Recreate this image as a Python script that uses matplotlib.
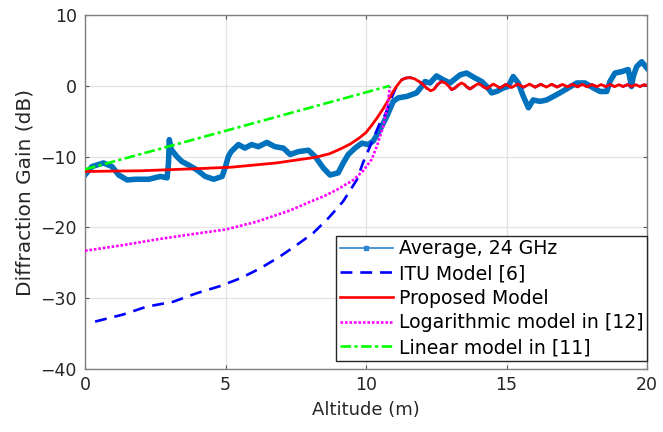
import matplotlib
matplotlib.use("Agg")
import matplotlib.pyplot as plt
from matplotlib.lines import Line2D

plt.rcParams.update({
    "font.family": "DejaVu Sans",
    "font.size": 12.5,
})

# Mesure moyenne a 24 GHz
avg_x = [0, 0.25, 0.66, 0.96, 1.2, 1.5, 1.79, 2.27, 2.68, 2.92, 2.97, 3.0, 3.07, 3.27, 3.45,
         3.69, 3.99, 4.28, 4.58, 4.88, 5.0, 5.1, 5.2, 5.46, 5.69, 5.93, 6.17, 6.47, 6.76, 7.06,
         7.3, 7.59, 7.95, 8.19, 8.48, 8.72, 9.01, 9.19, 9.37, 9.61, 9.85, 10.08, 10.26, 10.5,
         10.74, 10.97, 11.15, 11.45, 11.8, 11.98, 12.1, 12.28, 12.51, 12.75, 12.99, 13.35,
         13.58, 13.88, 14.12, 14.3, 14.47, 14.65, 14.89, 15.06, 15.24, 15.42, 15.6, 15.78,
         15.95, 16.19, 16.43, 16.67, 16.9, 17.2, 17.5, 17.79, 18.09, 18.33, 18.57, 18.68,
         18.86, 19.1, 19.33, 19.45, 19.51, 19.63, 19.81, 20.0]
avg_y = [-12.6, -11.4, -10.9, -11.4, -12.6, -13.3, -13.2, -13.2, -12.8, -13.0, -11.0, -7.6,
         -9.0, -10.0, -10.7, -11.2, -11.9, -12.8, -13.2, -12.8, -11.4, -10.0, -9.3, -8.3,
         -8.8, -8.3, -8.6, -8.0, -8.6, -8.8, -9.7, -9.3, -9.1, -10.0, -11.6, -12.6, -12.3,
         -10.9, -9.7, -8.8, -8.1, -8.3, -7.8, -6.2, -4.3, -2.2, -1.7, -1.5, -1.0, -0.1, 0.6,
         0.4, 1.4, 0.85, 0.4, 1.55, 1.8, 1.1, 0.6, -0.1, -1.0, -0.8, -0.3, -0.1, 1.3, 0.4,
         -1.5, -3.1, -2.0, -2.2, -2.0, -1.5, -1.0, -0.3, 0.4, 0.4, -0.3, -0.8, -0.8, 0.6,
         1.8, 2.0, 2.3, -0.1, 1.3, 2.7, 3.4, 2.5]

# Modele propose
prop_x = [0, 1, 2, 3, 4, 5.2, 6.8, 7.5, 8.2, 8.7, 9.1, 9.45, 9.75, 10.0, 10.2, 10.4, 10.6,
          10.8, 10.95, 11.1, 11.27, 11.42, 11.57, 11.72, 11.87, 12.0, 12.15, 12.3, 12.42,
          12.55, 12.69, 12.82, 12.93, 13.05, 13.17, 13.28, 13.4, 13.5, 13.6, 13.7, 13.8,
          13.9, 14.0, 14.1, 14.2, 14.3, 14.53, 14.77, 14.98, 15.18, 15.40, 15.61, 15.82,
          16.02, 16.22, 16.42, 16.61, 16.80, 16.99, 17.17, 17.35, 17.53, 17.70, 17.87, 18.04,
          18.21, 18.37, 18.53, 18.69, 18.85, 19.00, 19.15, 19.30, 19.45, 19.60, 19.75, 19.90,
          20.0]
prop_y = [-12.1, -12.05, -12.0, -11.85, -11.7, -11.5, -10.9, -10.5, -10.1, -9.6, -8.9, -8.2,
          -7.4, -6.6, -5.6, -4.5, -3.3, -2.0, -0.9, 0.0, 0.85, 1.1, 1.15, 1.0, 0.65, 0.3,
          -0.3, -0.7, -0.5, 0.2, 0.6, 0.4, 0.0, -0.55, -0.3, 0.1, 0.4, 0.2, -0.2, -0.45,
          -0.2, 0.1, 0.3, 0.1, -0.2, -0.4, 0.25, -0.3, 0.2, -0.25, 0.25, -0.2, 0.25, -0.2,
          0.22, -0.18, 0.22, -0.18, 0.2, -0.15, 0.2, -0.15, 0.2, -0.15, 0.18, -0.12, 0.18,
          -0.12, 0.18, -0.12, 0.16, -0.1, 0.16, -0.1, 0.15, -0.1, 0.15, 0.05]

# Modele ITU (rejoint le modele propose au-dessus de l'obstacle)
itu_x = [0.36, 1.36, 2.19, 3.14, 3.97, 4.8, 5.52, 6.23, 6.94, 7.53, 8.12, 8.66, 9.19, 9.67,
         9.9, 10.14, 10.5, 10.68, 10.95, 11.1]
itu_y = [-33.3, -32.3, -31.2, -30.5, -29.3, -28.3, -27.2, -25.8, -24.1, -22.5, -20.8, -18.7,
         -16.3, -13.3, -10.8, -8.6, -5.2, -4.1, -1.3, 0.0]

# Modele logarithmique [12]
log_x = [0, 1.36, 2.55, 3.74, 5.0, 6.11, 7.3, 8.0, 8.5, 9.0, 9.55, 9.9, 10.2, 10.4, 10.6,
         10.75, 10.85]
log_y = [-23.3, -22.5, -21.7, -21.0, -20.3, -19.2, -17.6, -16.4, -15.6, -14.6, -13.3, -12.0,
         -10.4, -8.4, -5.9, -3.2, -0.1]

# Modele lineaire [11]
lin_x = [0, 10.85]
lin_y = [-11.8, 0.0]

tail = [i for i, x in enumerate(prop_x) if x > 11.2]
itu_full_x = itu_x + [prop_x[i] for i in tail]
itu_full_y = itu_y + [prop_y[i] for i in tail]

fig = plt.figure(figsize=(6.63, 4.32), dpi=100)
ax = fig.add_axes([85 / 663, 63 / 432, 562 / 663, 354 / 432])

ax.plot(avg_x, avg_y, color='#0072BD', lw=4.0, solid_joinstyle='round', zorder=2)
ax.plot(itu_full_x, itu_full_y, color='#0000FF', lw=1.9, linestyle=(0, (4.5, 3.0)), zorder=3)
ax.plot(prop_x, prop_y, color='#FF0000', lw=2.0, zorder=4)
ax.plot(log_x, log_y, color='#FF00FF', lw=1.9, linestyle=(0, (1.0, 0.7)), zorder=5)
ax.plot(lin_x, lin_y, color='#00FF00', lw=1.9, linestyle=(0, (4.0, 1.3, 1.2, 1.3)), zorder=6)

handles = [
    Line2D([], [], color='#2F86D0', lw=1.2, marker='s', ms=3.5, mfc='#2F86D0'),
    Line2D([], [], color='#0000FF', lw=1.9, linestyle=(0, (4.5, 3.0))),
    Line2D([], [], color='#FF0000', lw=1.9),
    Line2D([], [], color='#FF00FF', lw=1.9, linestyle=(0, (1.0, 0.7))),
    Line2D([], [], color='#00FF00', lw=1.9, linestyle=(0, (4.0, 1.3, 1.2, 1.3))),
]
labels = ['Average, 24 GHz', 'ITU Model [6]', 'Proposed Model',
          'Logarithmic model in [12]', 'Linear model in [11]']
leg = ax.legend(handles, labels, loc='lower right', bbox_to_anchor=(1.0, 0.023),
                borderaxespad=0, fontsize=13.6, handlelength=2.8, handletextpad=0.3,
                labelspacing=0.3, borderpad=0.2, fancybox=False, framealpha=1)
leg.get_frame().set_edgecolor('#262626')
leg.get_frame().set_linewidth(1.0)
leg.set_zorder(10)

ax.set_xlim(0, 20)
ax.set_ylim(-40, 10)
ax.set_xticks([0, 5, 10, 15, 20])
ax.set_yticks([-40, -30, -20, -10, 0, 10])
ax.grid(True, color='#E3E3E3', lw=0.9)
ax.set_axisbelow(True)
ax.tick_params(direction='in', length=3, width=0.8, top=True, right=True,
               colors='#555555', labelcolor='#262626', labelsize=12.5)
ax.tick_params(axis='x', pad=5)
ax.tick_params(axis='y', pad=6)
for s in ax.spines.values():
    s.set_color('#808080')
    s.set_linewidth(1.0)

ax.set_xlabel('Altitude (m)', fontsize=13, color='#262626', labelpad=5)
ax.set_ylabel('Diffraction Gain (dB)', fontsize=14.5, color='#262626', labelpad=4)

fig.savefig('out.png', dpi=100)
